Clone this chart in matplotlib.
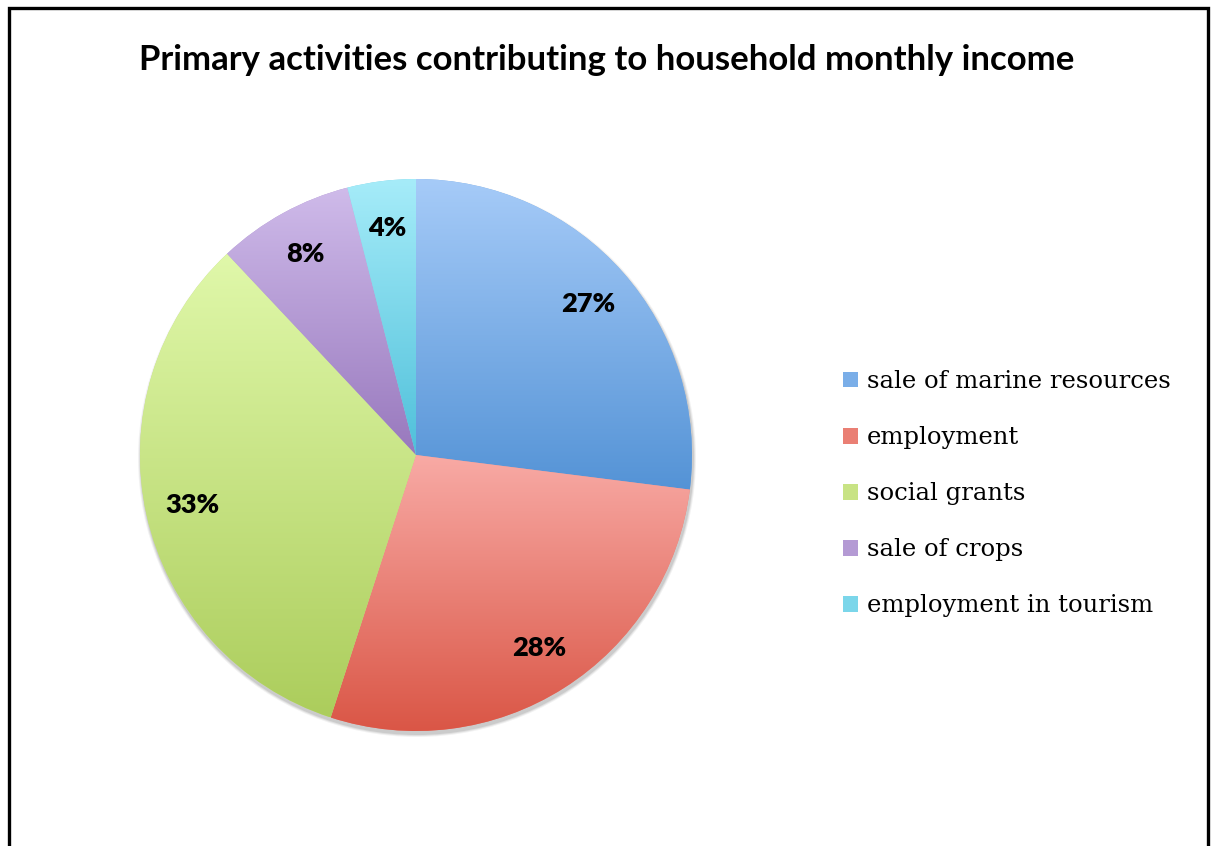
import matplotlib.pyplot as plt
import numpy as np
from matplotlib.colors import LinearSegmentedColormap
from matplotlib.patches import Rectangle, Circle

labels = ['sale of marine resources', 'employment', 'social grants',
          'sale of crops', 'employment in tourism']
shares = [27, 28, 33, 8, 4]
top_colors = ['#a6cbf8', '#f8aaa5', '#e0f8aa', '#cfbbea', '#a6ecf9']
bottom_colors = ['#5493d6', '#da5646', '#accd5c', '#9878bd', '#4fc0da']
mid_colors = ['#7aaee8', '#ea7f74', '#c8e384', '#b49ad4', '#7bd6ea']

W, H = 1211, 846
fig = plt.figure(figsize=(W / 100, H / 100), dpi=100)
ax = fig.add_axes([0, 0, 1, 1])

cx, cy, r = 416, H - 455, 276

# soft shadow under the pie
for k, a in enumerate([0.05, 0.07, 0.09]):
    ax.add_patch(Circle((cx + 1, cy - 3), r + 3 - k, color='black', alpha=a, lw=0, zorder=0))

wedges, _, autotexts = ax.pie(
    shares, startangle=90, counterclock=False, center=(cx, cy), radius=r,
    colors=mid_colors, autopct=lambda p: f'{p:.0f}%', pctdistance=0.83,
    wedgeprops=dict(linewidth=0), frame=True,
    textprops=dict(fontfamily=['Lato', 'DejaVu Sans'], fontweight='heavy',
                   fontsize=19.5, color='black'))

# vertical gradient inside each slice
grad = np.linspace(0, 1, 256).reshape(-1, 1)
for w, top, bot in zip(wedges, top_colors, bottom_colors):
    ext = w.get_path().get_extents()
    cmap = LinearSegmentedColormap.from_list('g', [bot, top])
    im = ax.imshow(grad, cmap=cmap, origin='lower', aspect='auto',
                   extent=[ext.x0, ext.x1, ext.y0, ext.y1], zorder=1.5,
                   interpolation='bilinear')
    im.set_clip_path(w)
for t in autotexts:
    t.set_zorder(3)

ax.set_xlim(0, W)
ax.set_ylim(0, H)
ax.set_aspect('equal')
ax.axis('off')

ax.text(607, H - 60, 'Primary activities contributing to household monthly income',
        ha='center', va='center', fontsize=25, fontweight='bold',
        fontfamily=['Lato', 'DejaVu Sans'], color='black')

leg = ax.legend(wedges, labels, loc='upper left', bbox_to_anchor=(831 / W, 1 - 358 / H),
                frameon=False, handlelength=0.62, handleheight=0.62, handletextpad=0.35,
                labelspacing=1.36, borderpad=0,
                prop=dict(family=['DejaVu Serif'], size=17.5))

ax.add_patch(Rectangle((8.5, -20), 1199, H - 8 + 20, fill=False, lw=2.4,
                       edgecolor='black', zorder=5, clip_on=False))

fig.savefig('out.png', dpi=100)
